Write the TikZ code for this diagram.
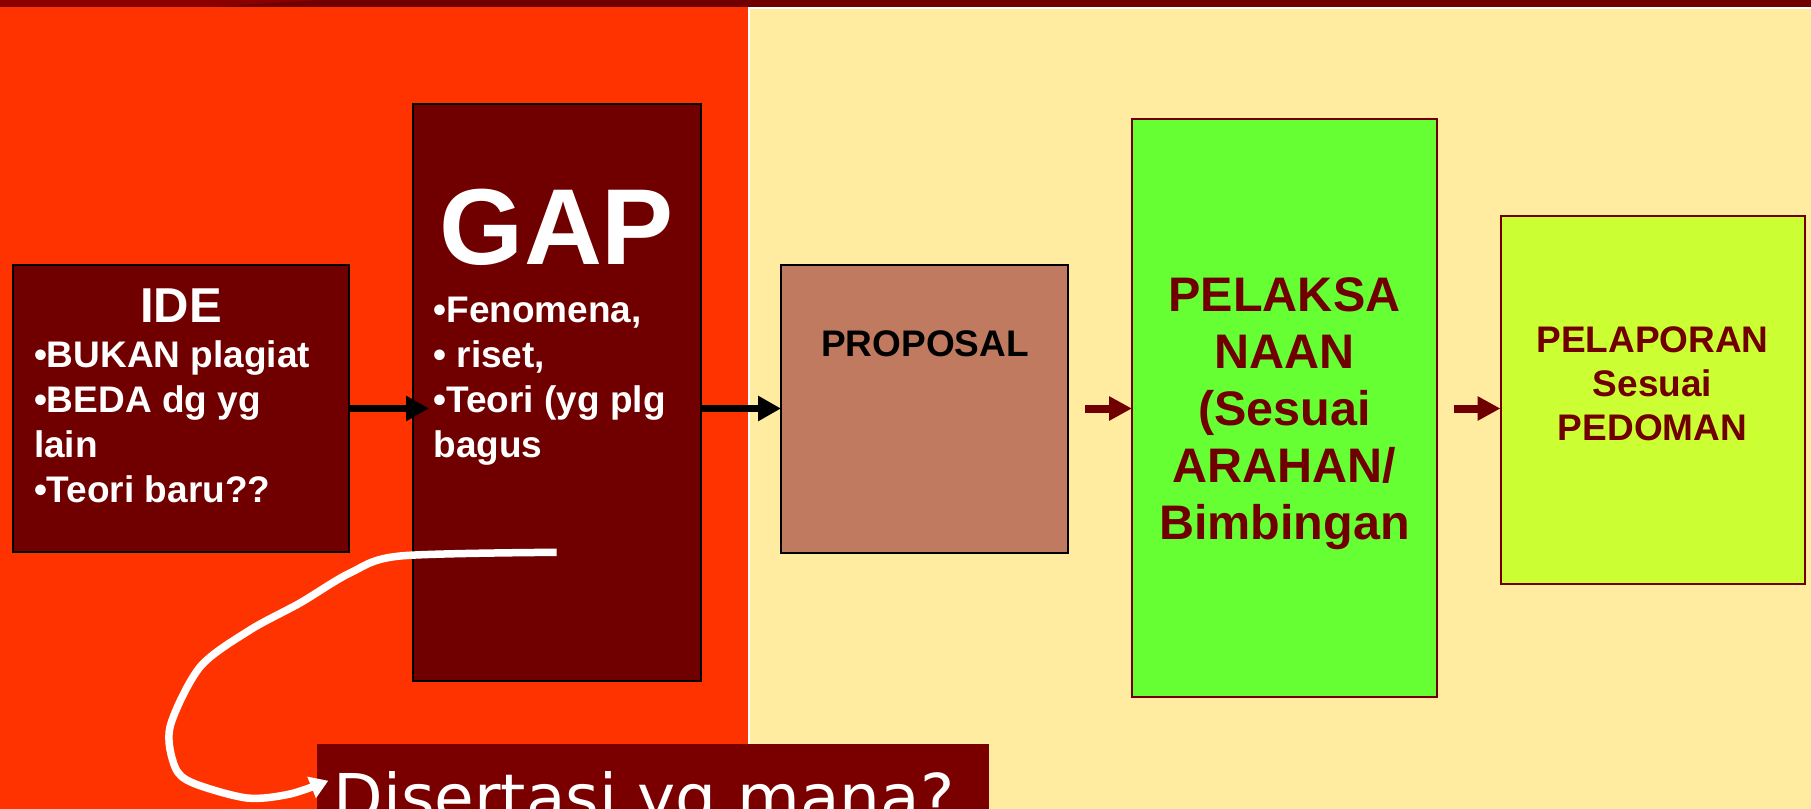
\documentclass[tikz,border=0pt]{standalone}
\usepackage{fontspec}
\setmainfont{Liberation Sans}
\newfontfamily\disfont{DejaVu Sans}
\usetikzlibrary{arrows.meta}
\definecolor{topbar}{HTML}{700000}
\definecolor{topbarlight}{HTML}{8A0000}
\definecolor{redbg}{HTML}{FF3300}
\definecolor{beige}{HTML}{FFECA0}
\definecolor{maroon}{HTML}{700000}
\definecolor{disfill}{HTML}{7A0000}
\definecolor{propfill}{HTML}{C07A60}
\definecolor{pelakfill}{HTML}{66FF33}
\definecolor{pelapfill}{HTML}{CCFF33}
\begin{document}
\begin{tikzpicture}[x=1pt,y=-1pt,
  every node/.style={inner sep=0pt, outer sep=0pt},
  darkbox/.style={rectangle, draw=black, line width=2pt, fill=maroon, anchor=north west},
  propbox/.style={rectangle, draw=black, line width=2pt, fill=propfill, anchor=north west},
  pelakbox/.style={rectangle, draw=maroon, line width=2pt, fill=pelakfill, anchor=north west},
  pelapbox/.style={rectangle, draw=maroon, line width=2pt, fill=pelapfill, anchor=north west},
  disbox/.style={rectangle, fill=disfill, anchor=north west},
  wsmall/.style={text=white, font=\bfseries\fontsize{37}{44}\selectfont, anchor=base west},
  wtitle/.style={text=white, font=\bfseries\fontsize{49}{57}\selectfont, anchor=base},
  wgap/.style={text=white, font=\bfseries\fontsize{108}{120}\selectfont, anchor=base},
  ksmall/.style={text=black, font=\bfseries\fontsize{37}{44}\selectfont, anchor=base},
  mbig/.style={text=maroon, font=\bfseries\fontsize{48.5}{57}\selectfont, anchor=base},
  msmall/.style={text=maroon, font=\bfseries\fontsize{37}{44}\selectfont, anchor=base},
  distxt/.style={text=white, font=\disfont\fontsize{64.5}{75}\selectfont, anchor=base west},
  blkarrow/.style={draw=black, line width=7.5pt, -{Triangle[length=23pt,width=24pt]}},
  redarrow/.style={draw=maroon, line width=8pt, -{Triangle[length=23pt,width=23pt]}},
  curvearrow/.style={draw=white, line width=7.5pt, line join=round, -{Triangle[length=18pt,width=22pt]}}
]
\useasboundingbox (0,0) rectangle (1811,808);
% background
\fill[redbg] (0,7) rectangle (748,840);
\fill[white] (748,7) rectangle (1830,840);
\fill[beige] (750,9) rectangle (1830,840);
\fill[topbar] (0,-10) rectangle (1830,7);
\fill[topbarlight] (0,-10) -- (320,-10) -- (320,0) .. controls (270,3) and (230,6) .. (205,7) -- (0,7) -- cycle;
% boxes
\node[darkbox, minimum width=336pt, minimum height=287pt] (ide) at (13,265) {};
\node[darkbox, minimum width=288pt, minimum height=577pt] (gap) at (413,103.5) {};
\node[propbox, minimum width=287pt, minimum height=288pt] (prop) at (781,264.5) {};
\node[pelakbox, minimum width=305pt, minimum height=577.5pt] (pelak) at (1132,119) {};
\node[pelapbox, minimum width=304.5pt, minimum height=368.5pt] (pelap) at (1500.5,215.5) {};
\node[disbox, minimum width=672pt, minimum height=100pt] (dis) at (317,744) {};
% IDE text
\node[wtitle] (idet) at (181,322.3) {IDE};
\node[wsmall] (ide1) at (34,367) {•BUKAN plagiat};
\node[wsmall] (ide2) at (34,412) {•BEDA dg yg};
\node[wsmall] (ide3) at (34,457) {lain};
\node[wsmall] (ide4) at (34,502) {•Teori baru??};
% GAP text
\node[wgap] (gapt) at (557,264) {GAP};
\node[wsmall] (gap1) at (433.5,322) {•Fenomena,};
\node[wsmall] (gap2) at (433.5,367) {• riset,};
\node[wsmall] (gap3) at (433.5,412) {•Teori (yg plg};
\node[wsmall] (gap4) at (433.5,457) {bagus};
% PROPOSAL
\node[ksmall] (propt) at (925,356) {PROPOSAL};
% PELAKSANAAN
\node[mbig] (pk1) at (1284.5,311.5) {PELAKSA};
\node[mbig] (pk2) at (1284.5,368.5) {NAAN};
\node[mbig] (pk3) at (1284.5,425.5) {(Sesuai};
\node[mbig] (pk4) at (1284.5,482.5) {ARAHAN/};
\node[mbig] (pk5) at (1284.5,539.5) {Bimbingan};
% PELAPORAN
\node[msmall] (pp1) at (1652.5,352) {PELAPORAN};
\node[msmall] (pp2) at (1652.5,396) {Sesuai};
\node[msmall] (pp3) at (1652.5,440) {PEDOMAN};
% Disertasi
\node[distxt] (dist) at (333.5,820) {Disertasi yg mana?};
% arrows
\draw[blkarrow, shorten >=-16pt] (ide.east) -- (ide.east -| gap.west);
\draw[blkarrow] (gap.east |- prop.west) -- (prop.west);
\draw[redarrow, shorten <=17pt] (prop.east) -- (prop.east -| pelak.west);
\draw[redarrow, shorten <=16.5pt] (pelak.east |- prop.east) -- (prop.east -| pelap.west);
% curve
\coordinate (cs) at (556.7,552.3);
\coordinate (ce) at (328.3,780.7);
\draw[curvearrow] plot[smooth, tension=0.5] coordinates {(cs) (400,556) (350,573) (300,603) (250,630) (200,667) (170,727) (175,767) (193,783) (247,798) (290,794) (ce)};
\end{tikzpicture}
\end{document}
